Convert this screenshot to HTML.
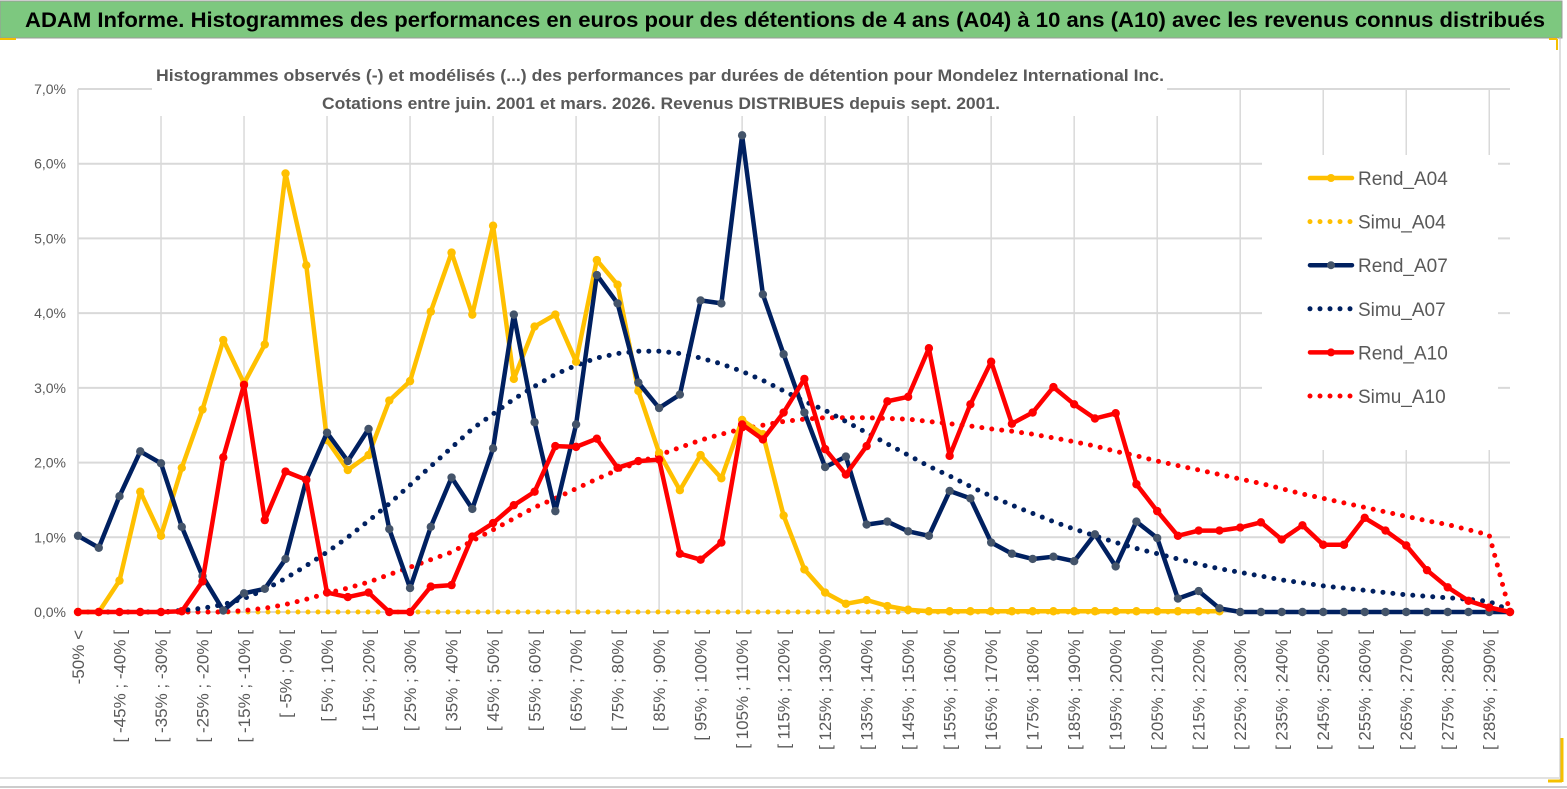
<!DOCTYPE html>
<html><head><meta charset="utf-8"><style>
html,body{margin:0;padding:0;background:#fff;}
svg{display:block;font-family:"Liberation Sans",sans-serif;}
</style></head><body>
<svg id="chart" width="1567" height="789" viewBox="0 0 1567 789">
<rect x="0" y="0" width="1567" height="789" fill="#fff"/>
<rect x="0" y="1" width="1562" height="37" fill="#7DC87F" stroke="#9a9a9a" stroke-width="1"/>
<line x1="0" y1="39" x2="16" y2="39" stroke="#F5C000" stroke-width="2"/>
<line x1="1549" y1="39" x2="1557" y2="39" stroke="#F5C000" stroke-width="2"/>
<line x1="1557" y1="39" x2="1557" y2="50" stroke="#F5C000" stroke-width="2"/>
<line x1="1560" y1="37" x2="1560" y2="782" stroke="#bfbfbf" stroke-width="1"/>
<line x1="1562" y1="738" x2="1562" y2="782" stroke="#F5C000" stroke-width="3"/>
<line x1="1548" y1="781" x2="1562" y2="781" stroke="#F5C000" stroke-width="3"/>
<line x1="0" y1="778" x2="1560" y2="778" stroke="#e2e2e2" stroke-width="2"/>
<line x1="0" y1="787" x2="1567" y2="787" stroke="#9a9a9a" stroke-width="1"/>
<text x="25" y="27" font-size="21" font-weight="bold" fill="#000" textLength="1520" lengthAdjust="spacingAndGlyphs">ADAM Informe. Histogrammes des performances en euros pour des détentions de 4 ans (A04) à 10 ans (A10) avec les revenus connus distribués</text>
<g id="grid"></g>
<rect x="152" y="58" width="1015" height="58" fill="#fff"/>
<rect x="1262" y="155" width="236" height="295" fill="#fff"/>
<text x="660" y="81" font-size="17" font-weight="bold" fill="#595959" text-anchor="middle" textLength="1008" lengthAdjust="spacingAndGlyphs">Histogrammes observés (-) et modélisés (...) des performances par durées de détention pour Mondelez International Inc.</text>
<text x="661" y="109" font-size="17" font-weight="bold" fill="#595959" text-anchor="middle" textLength="678" lengthAdjust="spacingAndGlyphs">Cotations entre juin. 2001 et mars. 2026. Revenus DISTRIBUES depuis sept. 2001.</text>
<g id="axes"></g>
<g id="series"></g>
<g id="legend"></g>
</svg>
<script>
const yTicks = [0,1,2,3,4,5,6,7];
const rendA04 = [0,0,0.42,1.61,1.02,1.93,2.71,3.64,3.06,3.58,5.87,4.64,2.30,1.90,2.10,2.83,3.09,4.02,4.81,3.98,5.17,3.12,3.82,3.98,3.35,4.71,4.38,2.96,2.13,1.63,2.10,1.79,2.57,2.38,1.29,0.57,0.26,0.11,0.16,0.08,0.03,0.01,0.01,0.01,0.01,0.01,0.01,0.01,0.01,0.01,0.01,0.01,0.01,0.01,0.01,0.01];
const rendA07 = [1.02,0.86,1.55,2.15,1.99,1.14,0.48,0.02,0.25,0.31,0.71,1.77,2.40,2.02,2.45,1.11,0.32,1.14,1.80,1.38,2.19,3.98,2.54,1.35,2.51,4.51,4.13,3.07,2.73,2.91,4.17,4.13,6.38,4.25,3.45,2.67,1.94,2.08,1.17,1.21,1.08,1.02,1.62,1.52,0.93,0.78,0.71,0.74,0.68,1.04,0.61,1.21,0.99,0.18,0.28,0.05,0,0,0,0,0,0,0,0,0,0,0,0,0,0];
const rendA10 = [0,0,0,0,0,0.01,0.41,2.07,3.04,1.23,1.88,1.77,0.26,0.20,0.26,0,0,0.34,0.36,1.01,1.19,1.43,1.61,2.22,2.21,2.32,1.93,2.02,2.04,0.78,0.70,0.93,2.51,2.31,2.67,3.12,2.18,1.84,2.22,2.82,2.88,3.53,2.09,2.78,3.35,2.52,2.67,3.01,2.78,2.59,2.66,1.71,1.35,1.02,1.09,1.09,1.13,1.20,0.97,1.16,0.90,0.90,1.26,1.09,0.89,0.56,0.33,0.15,0.06,0];
const simuA04 = [0,0,0,0,0,0,0,0,0,0,0,0,0,0,0,0,0,0,0,0,0,0,0,0,0,0,0,0,0,0,0,0,0,0,0,0,0,0,0,0,0,0,0,0,0,0,0,0,0,0,0,0,0,0,0,0];
const simuA07 = [0,0,0,0,0,0.02,0.05,0.10,0.18,0.30,0.45,0.62,0.80,1.00,1.22,1.45,1.70,1.95,2.20,2.45,2.65,2.85,3.02,3.18,3.30,3.40,3.46,3.49,3.49,3.46,3.40,3.32,3.22,3.10,2.96,2.82,2.70,2.55,2.40,2.25,2.10,1.95,1.82,1.68,1.55,1.43,1.32,1.21,1.11,1.02,0.93,0.85,0.78,0.71,0.64,0.58,0.53,0.48,0.43,0.39,0.35,0.32,0.29,0.26,0.23,0.21,0.19,0.17,0.14,0.02];
const simuA10 = [0,0,0,0,0,0,0,0,0.02,0.05,0.10,0.17,0.25,0.32,0.40,0.50,0.60,0.70,0.80,0.95,1.10,1.25,1.40,1.52,1.65,1.78,1.90,2.00,2.10,2.20,2.30,2.38,2.45,2.50,2.55,2.58,2.60,2.60,2.60,2.59,2.58,2.55,2.52,2.49,2.45,2.42,2.38,2.33,2.28,2.22,2.15,2.09,2.02,1.96,1.90,1.84,1.78,1.72,1.65,1.58,1.52,1.46,1.40,1.34,1.28,1.22,1.17,1.10,1.03,0];
const NC = 70;
const categories = [];
for (let k = 0; k < NC; k++) {
  if (k === 0) categories.push('-50% <');
  else if (k === NC - 1) categories.push('290% >');
  else categories.push('[ ' + (-55 + 5 * k) + '% ; ' + (-50 + 5 * k) + '% [');
}

const NS = 'http://www.w3.org/2000/svg';
const X0 = 78, X1 = 1510, Y0 = 612, Y7 = 89;
function xs(i) { return X0 + (X1 - X0) * i / (NC - 1); }
function ys(v) { return Y0 - (Y0 - Y7) * v / 7; }
function mk(tag, attrs, parent) {
  const e = document.createElementNS(NS, tag);
  for (const k in attrs) e.setAttribute(k, attrs[k]);
  parent.appendChild(e);
  return e;
}
const grid = document.getElementById('grid');
const axes = document.getElementById('axes');
const series = document.getElementById('series');
const legend = document.getElementById('legend');

yTicks.forEach(t => {
  const l = mk('line', {x1: X0, x2: X1, y1: ys(t), y2: ys(t), stroke: '#d9d9d9', 'stroke-width': 2}, grid);
  
  
  const tx = mk('text', {x: 66, y: ys(t) + 5, 'font-size': 14, fill: '#595959', 'text-anchor': 'end'}, axes);
  tx.textContent = t.toFixed(1).replace('.', ',') + '%';
  
  
});
for (let i = 0; i < NC; i += 4) {
  const l = mk('line', {x1: xs(i), x2: xs(i), y1: Y7, y2: Y0, stroke: '#d9d9d9', 'stroke-width': 1.5}, grid);
  
  
}
for (let i = 0; i < NC - 1; i += 2) {
  const x = xs(i) + 6, y = 630;
  const tx = mk('text', {x: x, y: y, 'font-size': 17, fill: '#595959', 'text-anchor': 'end', transform: 'rotate(-90 ' + x + ' ' + y + ')'}, axes);
  tx.textContent = categories[i];
  
  
}

function drawLine(data, color, width, dotted, marker, name) {
  const g = mk('g', {}, series);
  
  
  const pts = data.map((v, i) => xs(i).toFixed(1) + ',' + ys(v).toFixed(1)).join(' ');
  const attrs = {points: pts, fill: 'none', stroke: color, 'stroke-width': width, 'stroke-linejoin': 'round', 'stroke-linecap': 'round'};
  if (dotted) attrs['stroke-dasharray'] = '0 10';
  const pl = mk('polyline', attrs, g);
  
  
  if (marker) {
    data.forEach((v, i) => {
      const c = mk('circle', {cx: xs(i), cy: ys(v), r: 4.2, fill: marker}, g);
      
      
    });
  }
}
drawLine(simuA04, '#FFC000', 5, true, null, 'simu-a04');
drawLine(simuA10, '#FF0000', 5, true, null, 'simu-a10');
drawLine(simuA07, '#002060', 5, true, null, 'simu-a07');
drawLine(rendA04, '#FFC000', 4.5, false, '#FFC000', 'rend-a04');
drawLine(rendA07, '#002060', 4.5, false, '#44546A', 'rend-a07');
drawLine(rendA10, '#FF0000', 4.5, false, '#FF0000', 'rend-a10');

const legNames = ['Rend_A04','Simu_A04','Rend_A07','Simu_A07','Rend_A10','Simu_A10'];
const legColors = ['#FFC000','#FFC000','#002060','#002060','#FF0000','#FF0000'];
legNames.forEach((n, k) => {
  const y = 178 + k * 43.6;
  const g = mk('g', {}, legend);
  
  
  const dotted = k % 2 === 1;
  const a = {x1: 1310, x2: 1352, y1: y, y2: y, stroke: legColors[k], 'stroke-width': dotted ? 5 : 4.5, 'stroke-linecap': 'round'};
  if (dotted) a['stroke-dasharray'] = '0 10';
  mk('line', a, g);
  if (!dotted) mk('circle', {cx: 1331, cy: y, r: 4, fill: k === 2 ? '#44546A' : legColors[k]}, g);
  const t = mk('text', {x: 1358, y: y + 7, 'font-size': 19, fill: '#595959'}, g);
  t.textContent = n;
});
</script>
</body></html>
